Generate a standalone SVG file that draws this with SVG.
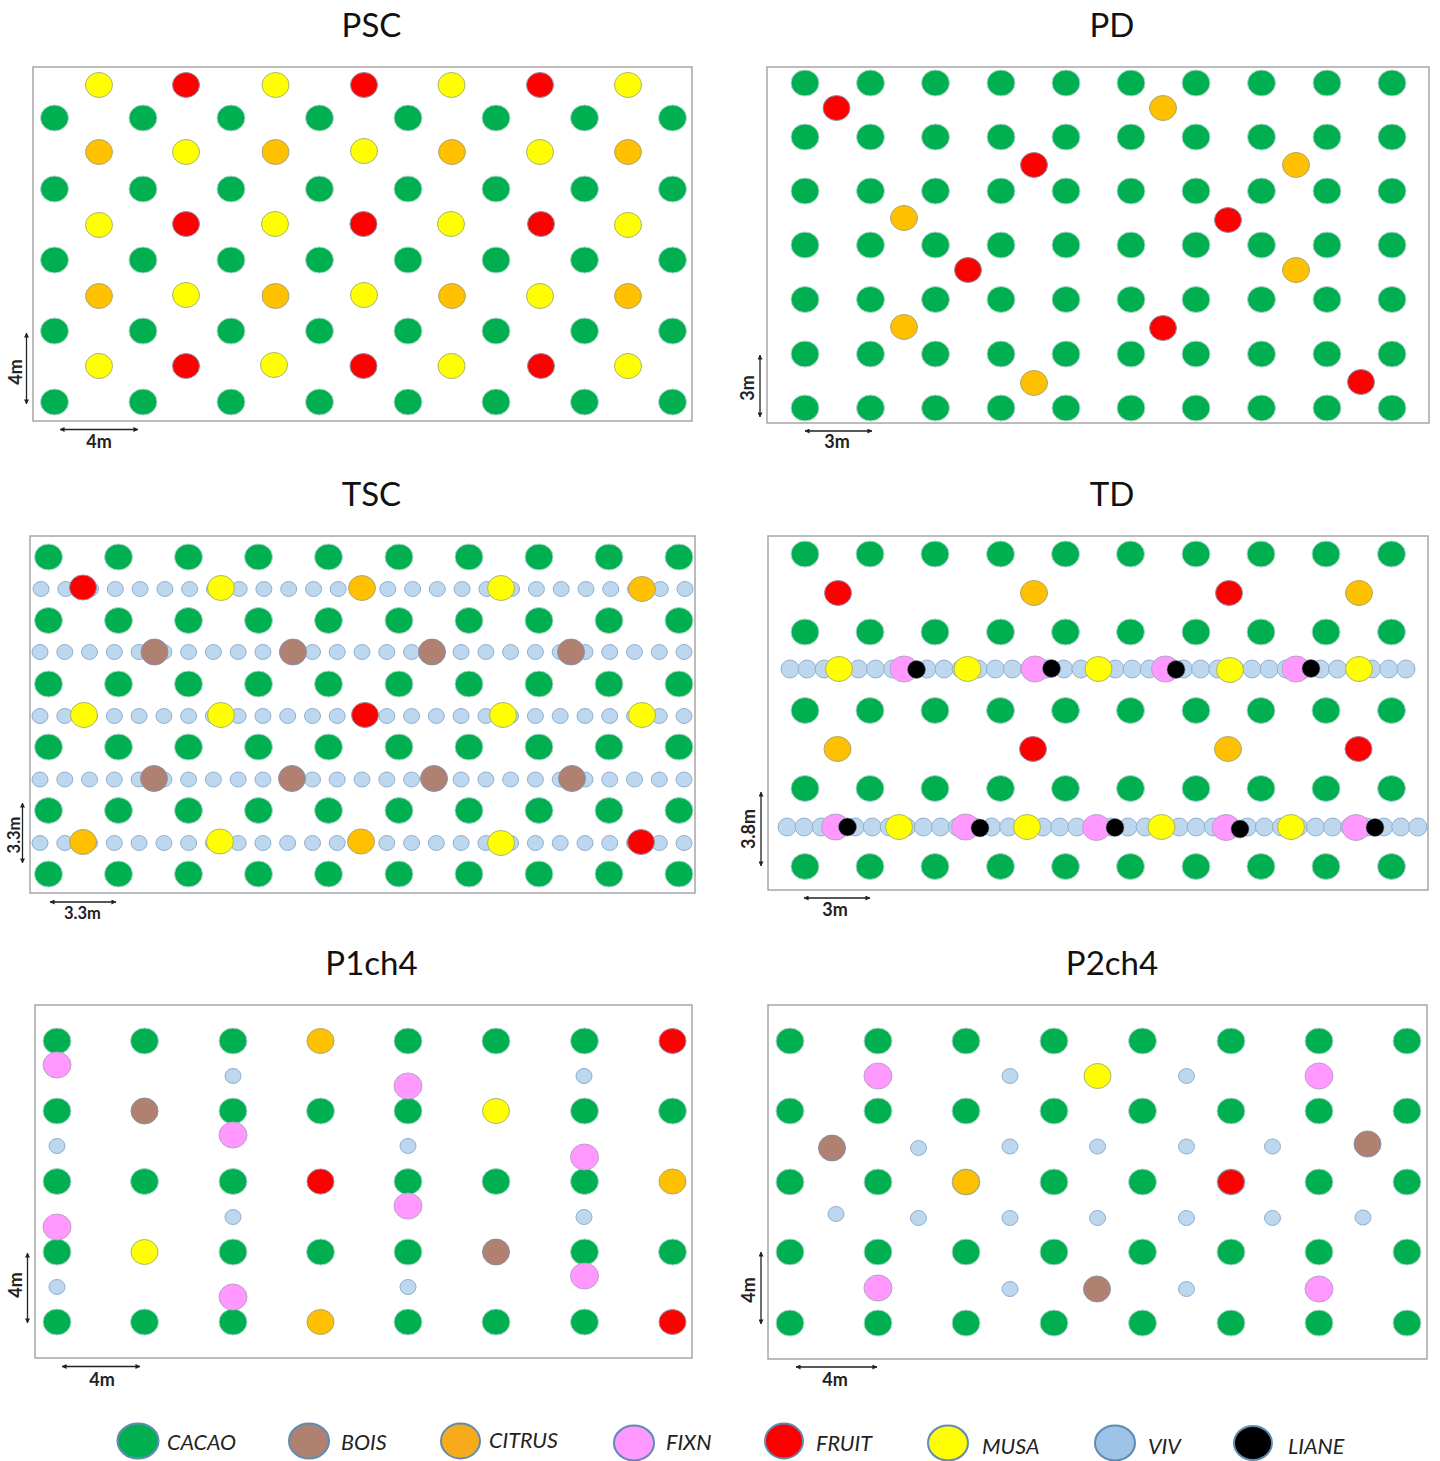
<svg xmlns="http://www.w3.org/2000/svg" width="1440" height="1461" viewBox="0 0 1440 1461">
<style>
.bg{fill:#fff}
.panel{fill:#fff;stroke:#a6a6a6;stroke-width:1.5}
.t{font-family:"Lato","Liberation Sans",sans-serif;fill:#111}
.title{font-size:33px;text-anchor:middle}
.dim{font-size:18px;font-weight:700;text-anchor:middle;fill:#222}
.dim2{font-size:16.5px}
.lg{font-size:21.5px;font-style:italic;fill:#222}
.g,.r,.y,.o,.b,.f{stroke-width:1}
.g{fill:#00b050;stroke:#b4d6cf;rx:14px;ry:13px}
.r{fill:#f00;stroke:#8d8fa8;rx:13.5px;ry:12.5px}
.y{fill:#ff0;stroke:#a9b56e;rx:13.5px;ry:12.5px}
.o{fill:#ffc000;stroke:#a8a77c;rx:13.5px;ry:12.5px}
.b{fill:#b08070;stroke:#8a93a8;rx:13.5px;ry:13px}
.f{fill:#ff99ff;stroke:#b9a2c9;rx:14px;ry:13px}
.k{fill:#000;stroke:#6d7f99;stroke-width:.5;rx:9px;ry:9px}
.v{fill:#bdd7ee;stroke:#8fb0cf;stroke-width:1;rx:8px;ry:7.5px}
.vl{fill:#bdd7ee;stroke:#8fb0cf;stroke-width:1;rx:9px;ry:9px}
.lgs{stroke:#5f8bb5;stroke-width:2}
.dl{fill:none;stroke:#222;stroke-width:1.3;marker-start:url(#ah);marker-end:url(#ah)}
</style>
<defs>
<marker id="ah" viewBox="0 0 6 6" refX="5.5" refY="3" markerWidth="5" markerHeight="5" markerUnits="userSpaceOnUse" orient="auto-start-reverse"><path d="M0 0L6 3L0 6Z" fill="#222"/></marker>
<g id="psc-g"><ellipse class="g" cx="54.5"/><ellipse class="g" cx="143"/><ellipse class="g" cx="231"/><ellipse class="g" cx="319.5"/><ellipse class="g" cx="408"/><ellipse class="g" cx="496"/><ellipse class="g" cx="584.5"/><ellipse class="g" cx="672.5"/></g>
<g id="pd-g"><ellipse class="g" cx="805"/><ellipse class="g" cx="870.5"/><ellipse class="g" cx="935.5"/><ellipse class="g" cx="1001"/><ellipse class="g" cx="1066"/><ellipse class="g" cx="1131"/><ellipse class="g" cx="1196"/><ellipse class="g" cx="1261.5"/><ellipse class="g" cx="1327"/><ellipse class="g" cx="1392"/></g>
<g id="tsc-g"><ellipse class="g" cx="48.5"/><ellipse class="g" cx="118.5"/><ellipse class="g" cx="188.5"/><ellipse class="g" cx="258.5"/><ellipse class="g" cx="328.5"/><ellipse class="g" cx="399"/><ellipse class="g" cx="469"/><ellipse class="g" cx="539"/><ellipse class="g" cx="609"/><ellipse class="g" cx="679"/></g>
<g id="tsc-v"><ellipse class="v" cx="41"/><ellipse class="v" cx="65.8"/><ellipse class="v" cx="90.5"/><ellipse class="v" cx="115.3"/><ellipse class="v" cx="140.1"/><ellipse class="v" cx="164.9"/><ellipse class="v" cx="189.6"/><ellipse class="v" cx="214.4"/><ellipse class="v" cx="239.2"/><ellipse class="v" cx="263.9"/><ellipse class="v" cx="288.7"/><ellipse class="v" cx="313.5"/><ellipse class="v" cx="338.2"/><ellipse class="v" cx="363"/><ellipse class="v" cx="387.8"/><ellipse class="v" cx="412.6"/><ellipse class="v" cx="437.3"/><ellipse class="v" cx="462.1"/><ellipse class="v" cx="486.9"/><ellipse class="v" cx="511.6"/><ellipse class="v" cx="536.4"/><ellipse class="v" cx="561.2"/><ellipse class="v" cx="586"/><ellipse class="v" cx="610.7"/><ellipse class="v" cx="635.5"/><ellipse class="v" cx="660.3"/><ellipse class="v" cx="685"/></g>
<g id="td-g"><ellipse class="g" cx="805"/><ellipse class="g" cx="870"/><ellipse class="g" cx="935"/><ellipse class="g" cx="1000.5"/><ellipse class="g" cx="1065.5"/><ellipse class="g" cx="1130.5"/><ellipse class="g" cx="1196"/><ellipse class="g" cx="1261"/><ellipse class="g" cx="1326"/><ellipse class="g" cx="1391.5"/></g>
<g id="p2-g"><ellipse class="g" cx="790"/><ellipse class="g" cx="878"/><ellipse class="g" cx="966"/><ellipse class="g" cx="1054"/><ellipse class="g" cx="1142.5"/><ellipse class="g" cx="1231"/><ellipse class="g" cx="1319"/><ellipse class="g" cx="1407"/></g>
</defs>
<rect class="bg" width="1440" height="1461"/>

<g id="panel-psc">
<text class="t title" x="371.5" y="37">PSC</text>
<rect class="panel" x="33" y="67" width="659" height="354"/>
<use href="#psc-g" y="118"/><use href="#psc-g" y="189"/><use href="#psc-g" y="260"/><use href="#psc-g" y="331"/><use href="#psc-g" y="402"/>
<ellipse class="y" cx="99" cy="85"/><ellipse class="r" cx="186" cy="85"/><ellipse class="y" cx="275.5" cy="85"/><ellipse class="r" cx="364" cy="85"/><ellipse class="y" cx="451.5" cy="85"/><ellipse class="r" cx="540" cy="85"/><ellipse class="y" cx="628" cy="85"/>
<ellipse class="o" cx="99" cy="152"/><ellipse class="y" cx="186" cy="152"/><ellipse class="o" cx="275.5" cy="152"/><ellipse class="y" cx="364" cy="151"/><ellipse class="o" cx="452" cy="152"/><ellipse class="y" cx="540" cy="152"/><ellipse class="o" cx="628" cy="152"/>
<ellipse class="y" cx="99" cy="225"/><ellipse class="r" cx="186" cy="224"/><ellipse class="y" cx="275" cy="224"/><ellipse class="r" cx="363.5" cy="224"/><ellipse class="y" cx="451" cy="224"/><ellipse class="r" cx="541" cy="224"/><ellipse class="y" cx="628" cy="225"/>
<ellipse class="o" cx="99" cy="296"/><ellipse class="y" cx="186" cy="295"/><ellipse class="o" cx="275.5" cy="296"/><ellipse class="y" cx="364" cy="295"/><ellipse class="o" cx="452" cy="296"/><ellipse class="y" cx="540" cy="296"/><ellipse class="o" cx="628" cy="296"/>
<ellipse class="y" cx="99" cy="366"/><ellipse class="r" cx="186" cy="366"/><ellipse class="y" cx="274" cy="365"/><ellipse class="r" cx="363.5" cy="366"/><ellipse class="y" cx="451.5" cy="366"/><ellipse class="r" cx="541" cy="366"/><ellipse class="y" cx="628" cy="366"/>
<text class="t dim" transform="translate(22 372) rotate(-90)">4m</text>
<text class="t dim" x="99" y="448">4m</text>
</g>

<g id="panel-pd">
<text class="t title" x="1112" y="37">PD</text>
<rect class="panel" x="767" y="67" width="662" height="356"/>
<use href="#pd-g" y="83"/><use href="#pd-g" y="137"/><use href="#pd-g" y="191"/><use href="#pd-g" y="245"/><use href="#pd-g" y="299.5"/><use href="#pd-g" y="354"/><use href="#pd-g" y="408"/>
<ellipse class="r" cx="836.5" cy="108"/><ellipse class="o" cx="1163" cy="108"/><ellipse class="r" cx="1034" cy="165"/><ellipse class="o" cx="1296" cy="165"/><ellipse class="o" cx="904" cy="218"/><ellipse class="r" cx="1228" cy="220"/><ellipse class="r" cx="968" cy="270"/><ellipse class="o" cx="1296" cy="270"/><ellipse class="o" cx="904" cy="327"/><ellipse class="r" cx="1163" cy="328"/><ellipse class="o" cx="1034" cy="383"/><ellipse class="r" cx="1361" cy="382"/>
<text class="t dim" transform="translate(754 388) rotate(-90)">3m</text>
<text class="t dim" x="837" y="448">3m</text>
</g>

<g id="panel-tsc">
<text class="t title" x="371.5" y="506">TSC</text>
<rect class="panel" x="30" y="536" width="665" height="357"/>
<use href="#tsc-g" y="557"/><use href="#tsc-g" y="620.5"/><use href="#tsc-g" y="684"/><use href="#tsc-g" y="747"/><use href="#tsc-g" y="810.5"/><use href="#tsc-g" y="874"/>
<use href="#tsc-v" y="589"/><use href="#tsc-v" x="-1" y="652"/><use href="#tsc-v" x="-1" y="716"/><use href="#tsc-v" x="-1" y="779.5"/><use href="#tsc-v" x="-1" y="843"/>
<ellipse class="r" cx="83" cy="587.5"/><ellipse class="y" cx="221" cy="588"/><ellipse class="o" cx="362" cy="588"/><ellipse class="y" cx="501" cy="588"/><ellipse class="o" cx="642" cy="589"/>
<ellipse class="b" cx="154.5" cy="652"/><ellipse class="b" cx="293" cy="652"/><ellipse class="b" cx="432" cy="652"/><ellipse class="b" cx="571" cy="652"/>
<ellipse class="y" cx="84" cy="715"/><ellipse class="y" cx="221" cy="715"/><ellipse class="r" cx="365" cy="715"/><ellipse class="y" cx="503" cy="715"/><ellipse class="y" cx="642" cy="715"/>
<ellipse class="b" cx="154" cy="778.5"/><ellipse class="b" cx="292" cy="778.5"/><ellipse class="b" cx="434" cy="778.5"/><ellipse class="b" cx="572" cy="778.5"/>
<ellipse class="o" cx="83" cy="842"/><ellipse class="y" cx="220" cy="841.5"/><ellipse class="o" cx="361" cy="841.5"/><ellipse class="y" cx="501" cy="843"/><ellipse class="r" cx="641" cy="842"/>
<text class="t dim dim2" transform="translate(20 835) rotate(-90)">3.3m</text>
<text class="t dim dim2" x="82.5" y="919">3.3m</text>
</g>

<g id="panel-td">
<text class="t title" x="1112" y="506">TD</text>
<rect class="panel" x="768" y="536" width="660" height="354"/>
<use href="#td-g" y="554"/><use href="#td-g" y="632"/><use href="#td-g" y="710.5"/><use href="#td-g" y="788.5"/><use href="#td-g" y="866.5"/>
<ellipse class="r" cx="838" cy="593"/><ellipse class="o" cx="1034" cy="593"/><ellipse class="r" cx="1229" cy="593"/><ellipse class="o" cx="1359" cy="593"/>
<ellipse class="o" cx="837.5" cy="749"/><ellipse class="r" cx="1033" cy="749"/><ellipse class="o" cx="1228" cy="749"/><ellipse class="r" cx="1358.5" cy="749"/>
<g id="td-row-a"><ellipse class="vl" cx="790" cy="669"/><ellipse class="vl" cx="807.1" cy="669"/><ellipse class="vl" cx="824.2" cy="669"/><ellipse class="vl" cx="841.3" cy="669"/><ellipse class="vl" cx="858.4" cy="669"/><ellipse class="vl" cx="875.6" cy="669"/><ellipse class="vl" cx="892.7" cy="669"/><ellipse class="vl" cx="909.8" cy="669"/><ellipse class="vl" cx="926.9" cy="669"/><ellipse class="vl" cx="944" cy="669"/><ellipse class="vl" cx="961.1" cy="669"/><ellipse class="vl" cx="978.2" cy="669"/><ellipse class="vl" cx="995.3" cy="669"/><ellipse class="vl" cx="1012.4" cy="669"/><ellipse class="vl" cx="1029.5" cy="669"/><ellipse class="vl" cx="1046.6" cy="669"/><ellipse class="vl" cx="1063.8" cy="669"/><ellipse class="vl" cx="1080.9" cy="669"/><ellipse class="vl" cx="1098" cy="669"/><ellipse class="vl" cx="1115.1" cy="669"/><ellipse class="vl" cx="1132.2" cy="669"/><ellipse class="vl" cx="1149.3" cy="669"/><ellipse class="vl" cx="1166.4" cy="669"/><ellipse class="vl" cx="1183.5" cy="669"/><ellipse class="vl" cx="1200.6" cy="669"/><ellipse class="vl" cx="1217.8" cy="669"/><ellipse class="vl" cx="1234.9" cy="669"/><ellipse class="vl" cx="1252" cy="669"/><ellipse class="vl" cx="1269.1" cy="669"/><ellipse class="vl" cx="1286.2" cy="669"/><ellipse class="vl" cx="1303.3" cy="669"/><ellipse class="vl" cx="1320.4" cy="669"/><ellipse class="vl" cx="1337.5" cy="669"/><ellipse class="vl" cx="1354.6" cy="669"/><ellipse class="vl" cx="1371.7" cy="669"/><ellipse class="vl" cx="1388.8" cy="669"/><ellipse class="vl" cx="1406" cy="669"/></g>
<ellipse class="y" cx="839" cy="669"/><ellipse class="f" cx="904" cy="669"/><ellipse class="k" cx="916.5" cy="669.5"/><ellipse class="y" cx="967.5" cy="669"/><ellipse class="f" cx="1035" cy="669"/><ellipse class="k" cx="1051.5" cy="668.5"/><ellipse class="y" cx="1098.5" cy="669"/><ellipse class="f" cx="1165.5" cy="669"/><ellipse class="k" cx="1176" cy="669.5"/><ellipse class="y" cx="1230" cy="670"/><ellipse class="f" cx="1296" cy="669"/><ellipse class="k" cx="1311" cy="668.5"/><ellipse class="y" cx="1359" cy="669"/>
<g id="td-row-b"><ellipse class="vl" cx="787" cy="827"/><ellipse class="vl" cx="804.1" cy="827"/><ellipse class="vl" cx="821.1" cy="827"/><ellipse class="vl" cx="838.2" cy="827"/><ellipse class="vl" cx="855.2" cy="827"/><ellipse class="vl" cx="872.3" cy="827"/><ellipse class="vl" cx="889.3" cy="827"/><ellipse class="vl" cx="906.4" cy="827"/><ellipse class="vl" cx="923.4" cy="827"/><ellipse class="vl" cx="940.5" cy="827"/><ellipse class="vl" cx="957.5" cy="827"/><ellipse class="vl" cx="974.6" cy="827"/><ellipse class="vl" cx="991.6" cy="827"/><ellipse class="vl" cx="1008.7" cy="827"/><ellipse class="vl" cx="1025.7" cy="827"/><ellipse class="vl" cx="1042.8" cy="827"/><ellipse class="vl" cx="1059.8" cy="827"/><ellipse class="vl" cx="1076.9" cy="827"/><ellipse class="vl" cx="1093.9" cy="827"/><ellipse class="vl" cx="1111" cy="827"/><ellipse class="vl" cx="1128" cy="827"/><ellipse class="vl" cx="1145.1" cy="827"/><ellipse class="vl" cx="1162.1" cy="827"/><ellipse class="vl" cx="1179.2" cy="827"/><ellipse class="vl" cx="1196.2" cy="827"/><ellipse class="vl" cx="1213.3" cy="827"/><ellipse class="vl" cx="1230.3" cy="827"/><ellipse class="vl" cx="1247.4" cy="827"/><ellipse class="vl" cx="1264.4" cy="827"/><ellipse class="vl" cx="1281.5" cy="827"/><ellipse class="vl" cx="1298.5" cy="827"/><ellipse class="vl" cx="1315.6" cy="827"/><ellipse class="vl" cx="1332.6" cy="827"/><ellipse class="vl" cx="1349.7" cy="827"/><ellipse class="vl" cx="1366.7" cy="827"/><ellipse class="vl" cx="1383.8" cy="827"/><ellipse class="vl" cx="1400.8" cy="827"/><ellipse class="vl" cx="1417.9" cy="827"/></g>
<ellipse class="f" cx="835.5" cy="827"/><ellipse class="k" cx="847.5" cy="827"/><ellipse class="y" cx="899" cy="827"/><ellipse class="f" cx="965.5" cy="827"/><ellipse class="k" cx="980" cy="828"/><ellipse class="y" cx="1027" cy="827"/><ellipse class="f" cx="1096.5" cy="827.5"/><ellipse class="k" cx="1115" cy="827.5"/><ellipse class="y" cx="1161.5" cy="827"/><ellipse class="f" cx="1226" cy="827.5"/><ellipse class="k" cx="1240" cy="829"/><ellipse class="y" cx="1291" cy="827"/><ellipse class="f" cx="1356" cy="827.5"/><ellipse class="k" cx="1375" cy="827.5"/>
<text class="t dim" transform="translate(755 829) rotate(-90)">3.8m</text>
<text class="t dim" x="835" y="916">3m</text>
</g>

<g id="panel-p1ch4">
<text class="t title" x="371.5" y="975">P1ch4</text>
<rect class="panel" x="35" y="1005" width="657" height="353"/>
<ellipse class="g" cx="57" cy="1041"/><ellipse class="g" cx="144.5" cy="1041"/><ellipse class="g" cx="233" cy="1041"/><ellipse class="o" cx="320.5" cy="1041"/><ellipse class="g" cx="408" cy="1041"/><ellipse class="g" cx="496" cy="1041"/><ellipse class="g" cx="584.5" cy="1041"/><ellipse class="r" cx="672.5" cy="1041"/>
<ellipse class="g" cx="57" cy="1111"/><ellipse class="b" cx="144.5" cy="1111"/><ellipse class="g" cx="233" cy="1111"/><ellipse class="g" cx="320.5" cy="1111"/><ellipse class="g" cx="408" cy="1111"/><ellipse class="y" cx="496" cy="1111"/><ellipse class="g" cx="584.5" cy="1111"/><ellipse class="g" cx="672.5" cy="1111"/>
<ellipse class="g" cx="57" cy="1181.5"/><ellipse class="g" cx="144.5" cy="1181.5"/><ellipse class="g" cx="233" cy="1181.5"/><ellipse class="r" cx="320.5" cy="1181.5"/><ellipse class="g" cx="408" cy="1181.5"/><ellipse class="g" cx="496" cy="1181.5"/><ellipse class="g" cx="584.5" cy="1181.5"/><ellipse class="o" cx="672.5" cy="1181.5"/>
<ellipse class="g" cx="57" cy="1252"/><ellipse class="y" cx="144.5" cy="1252"/><ellipse class="g" cx="233" cy="1252"/><ellipse class="g" cx="320.5" cy="1252"/><ellipse class="g" cx="408" cy="1252"/><ellipse class="b" cx="496" cy="1252"/><ellipse class="g" cx="584.5" cy="1252"/><ellipse class="g" cx="672.5" cy="1252"/>
<ellipse class="g" cx="57" cy="1322"/><ellipse class="g" cx="144.5" cy="1322"/><ellipse class="g" cx="233" cy="1322"/><ellipse class="o" cx="320.5" cy="1322"/><ellipse class="g" cx="408" cy="1322"/><ellipse class="g" cx="496" cy="1322"/><ellipse class="g" cx="584.5" cy="1322"/><ellipse class="r" cx="672.5" cy="1322"/>
<ellipse class="f" cx="57" cy="1065"/><ellipse class="f" cx="408" cy="1086"/><ellipse class="f" cx="233" cy="1135"/><ellipse class="f" cx="584.5" cy="1157"/><ellipse class="f" cx="408" cy="1206"/><ellipse class="f" cx="57" cy="1227"/><ellipse class="f" cx="584.5" cy="1276"/><ellipse class="f" cx="233" cy="1297"/>
<ellipse class="v" cx="233" cy="1076"/><ellipse class="v" cx="584" cy="1076"/><ellipse class="v" cx="57" cy="1146"/><ellipse class="v" cx="408" cy="1146"/><ellipse class="v" cx="233" cy="1217"/><ellipse class="v" cx="584" cy="1217"/><ellipse class="v" cx="57" cy="1287"/><ellipse class="v" cx="408" cy="1287"/>
<text class="t dim" transform="translate(22 1285) rotate(-90)">4m</text>
<text class="t dim" x="102" y="1386">4m</text>
</g>

<g id="panel-p2ch4">
<text class="t title" x="1112" y="975">P2ch4</text>
<rect class="panel" x="768" y="1005" width="659" height="354"/>
<use href="#p2-g" y="1041"/><use href="#p2-g" y="1111"/><use href="#p2-g" y="1182"/><use href="#p2-g" y="1252"/><use href="#p2-g" y="1323"/>
<ellipse class="o" cx="966" cy="1182"/><ellipse class="r" cx="1231" cy="1182"/>
<ellipse class="f" cx="878" cy="1076"/><ellipse class="f" cx="1319" cy="1076"/><ellipse class="f" cx="878" cy="1288"/><ellipse class="f" cx="1319" cy="1289"/>
<ellipse class="y" cx="1097.5" cy="1076"/>
<ellipse class="b" cx="832" cy="1148"/><ellipse class="b" cx="1367.5" cy="1144"/><ellipse class="b" cx="1097" cy="1289"/>
<ellipse class="v" cx="1010" cy="1076"/><ellipse class="v" cx="1186.5" cy="1076"/><ellipse class="v" cx="918.5" cy="1148"/><ellipse class="v" cx="1010" cy="1146.5"/><ellipse class="v" cx="1097.5" cy="1146.5"/><ellipse class="v" cx="1186.5" cy="1146.5"/><ellipse class="v" cx="1272.5" cy="1146.5"/><ellipse class="v" cx="836" cy="1214"/><ellipse class="v" cx="918.5" cy="1218"/><ellipse class="v" cx="1010" cy="1218"/><ellipse class="v" cx="1097.5" cy="1218"/><ellipse class="v" cx="1186.5" cy="1218"/><ellipse class="v" cx="1272.5" cy="1218"/><ellipse class="v" cx="1363" cy="1217.5"/><ellipse class="v" cx="1010" cy="1289"/><ellipse class="v" cx="1186.5" cy="1289"/>
<text class="t dim" transform="translate(755 1290) rotate(-90)">4m</text>
<text class="t dim" x="835" y="1386">4m</text>
</g>

<g id="connectors">
<line class="dl" x1="26.5" y1="333" x2="26.5" y2="404"/>
<line class="dl" x1="60" y1="429.5" x2="138" y2="429.5"/>
<line class="dl" x1="760" y1="355" x2="760" y2="417"/>
<line class="dl" x1="805" y1="431" x2="872" y2="431"/>
<line class="dl" x1="22.5" y1="803" x2="22.5" y2="863"/>
<line class="dl" x1="50" y1="902" x2="116" y2="902"/>
<line class="dl" x1="761" y1="792" x2="761" y2="866"/>
<line class="dl" x1="804" y1="898" x2="870" y2="898"/>
<line class="dl" x1="27.5" y1="1253" x2="27.5" y2="1323"/>
<line class="dl" x1="62" y1="1366.5" x2="140" y2="1366.5"/>
<line class="dl" x1="761" y1="1252" x2="761" y2="1324"/>
<line class="dl" x1="796" y1="1367" x2="877" y2="1367"/>
</g>

<g id="legend-cacao"><ellipse class="lgs" fill="#00b050" cx="138" cy="1441" rx="20.5" ry="17.5"/><text class="t lg" x="167" y="1450">CACAO</text></g>
<g id="legend-bois"><ellipse class="lgs" fill="#b08070" cx="309" cy="1441" rx="20" ry="17.5"/><text class="t lg" x="341" y="1450">BOIS</text></g>
<g id="legend-citrus"><ellipse class="lgs" fill="#f7ab1b" cx="460.5" cy="1441" rx="19.5" ry="17.5"/><text class="t lg" x="489" y="1448">CITRUS</text></g>
<g id="legend-fixn"><ellipse class="lgs" fill="#ff99ff" cx="634" cy="1443" rx="20" ry="17.5"/><text class="t lg" x="666" y="1450">FIXN</text></g>
<g id="legend-fruit"><ellipse class="lgs" fill="#f00" cx="784" cy="1441" rx="19" ry="17.5"/><text class="t lg" x="816" y="1451">FRUIT</text></g>
<g id="legend-musa"><ellipse class="lgs" fill="#ff0" cx="948" cy="1443" rx="20" ry="17.5"/><text class="t lg" x="982" y="1454">MUSA</text></g>
<g id="legend-viv"><ellipse class="lgs" fill="#9dc3e6" cx="1115" cy="1443" rx="20" ry="17.5"/><text class="t lg" x="1148" y="1454">VIV</text></g>
<g id="legend-liane"><ellipse class="lgs" fill="#000" cx="1253" cy="1443" rx="19" ry="17"/><text class="t lg" x="1288" y="1454">LIANE</text></g>
</svg>
